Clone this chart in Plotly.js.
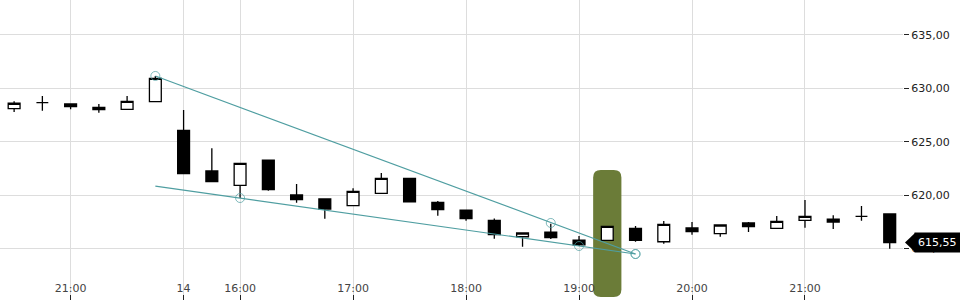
<!DOCTYPE html>
<html>
<head>
<meta charset="utf-8">
<script src="https://cdn.plot.ly/plotly-3.0.1.min.js"></script>
<style>html,body{margin:0;padding:0;background:#fff;}#chart{width:960px;height:300px;}</style>
</head>
<body>
<div id="chart"></div>
<script>
// 15-minute candles: day 13 (evening) then day 14
const times = ['13 20:30','13 20:45','13 21:00','13 21:15','13 21:30','13 21:45',
  '14 15:30','14 15:45','14 16:00','14 16:15','14 16:30','14 16:45','14 17:00','14 17:15',
  '14 17:30','14 17:45','14 18:00','14 18:15','14 18:30','14 18:45','14 19:00','14 19:15',
  '14 19:30','14 19:45','14 20:00','14 20:15','14 20:30','14 20:45','14 21:00','14 21:15',
  '14 21:30','14 21:45'];
const open  = [628.09,628.66,628.53,628.22,628.03,628.75,626.06,622.25,620.91,623.28,620.00,619.63,619.00,620.16,621.56,619.31,618.59,617.63,616.09,616.53,615.78,615.75,616.88,615.62,616.91,616.38,617.38,616.88,617.63,617.75,618.00,618.22];
const high  = [628.78,629.28,628.53,628.53,629.28,631.16,627.97,624.38,622.97,623.28,621.03,619.63,620.63,622.06,621.56,619.44,618.59,617.81,616.44,617.30,616.16,617.06,617.09,617.56,617.47,617.19,617.47,618.03,619.53,618.10,618.97,618.22];
const low   = [627.78,627.90,628.03,627.72,628.03,628.75,622.00,621.25,619.72,620.40,619.28,617.78,619.00,620.16,619.37,618.06,617.59,615.90,615.16,615.88,615.22,615.75,615.62,615.44,616.28,616.09,616.53,616.88,616.94,616.81,617.59,614.97];
const close = [628.60,628.66,628.28,628.00,628.78,630.94,622.00,621.25,622.97,620.50,619.56,618.69,620.34,621.56,619.37,618.63,617.78,616.28,616.44,616.00,615.34,617.06,615.75,617.25,616.56,617.19,617.03,617.53,618.00,617.47,618.00,615.55];

// x-axis tick labels
const tickTimes  = ['13 21:00','14 15:30','14 16:00','14 17:00','14 18:00','14 19:00','14 20:00','14 21:00'];
const tickLabels = ['21:00','14','16:00','17:00','18:00','19:00','20:00','21:00'];

// drawn trend lines (wedge)
const upperTimes  = ['13 21:45','14 18:45','14 19:30'];
const upperValues = [631.16,617.38,614.47];
const upperMarks  = [9,9,9];
const lowerTimes  = ['13 21:45','14 16:00','14 19:00','14 19:30'];
const lowerValues = [620.84,619.72,615.22,614.47];
const lowerMarks  = [0,9,9,9];

// highlighted candle
const highlightTime = '14 19:15';
const highlightTop = 622.34, highlightBottom = 610.44;

const idx = t => times.indexOf(t);
const xs = times.map((t, i) => i);
const teal = '#4f9ea1';
const lastClose = close[close.length - 1];
const fmt = v => v.toFixed(2).replace('.', ',');

const traces = [
  {
    type: 'candlestick', x: xs, open: open, high: high, low: low, close: close,
    increasing: {line: {color: '#000', width: 1.3}, fillcolor: '#fff'},
    decreasing: {line: {color: '#000', width: 1.3}, fillcolor: '#000'},
    whiskerwidth: 0, hoverinfo: 'none', showlegend: false
  },
  {
    type: 'scatter', mode: 'lines+markers', x: upperTimes.map(idx), y: upperValues,
    line: {color: teal, width: 1.2},
    marker: {symbol: 'circle-open', size: upperMarks, color: teal, line: {color: teal, width: 1}},
    hoverinfo: 'none', showlegend: false
  },
  {
    type: 'scatter', mode: 'lines+markers', x: lowerTimes.map(idx), y: lowerValues,
    line: {color: teal, width: 1.2},
    marker: {symbol: 'circle-open', size: lowerMarks, color: teal, line: {color: teal, width: 1}},
    hoverinfo: 'none', showlegend: false
  }
];

const hi = idx(highlightTime);
const hx0 = hi - 0.5, hx1 = hi + 0.5, rx = 0.27, ry = 0.7;
const hlPath = `M ${hx0 + rx},${highlightTop} L ${hx1 - rx},${highlightTop} Q ${hx1},${highlightTop} ${hx1},${highlightTop - ry} ` +
  `L ${hx1},${highlightBottom + ry} Q ${hx1},${highlightBottom} ${hx1 - rx},${highlightBottom} ` +
  `L ${hx0 + rx},${highlightBottom} Q ${hx0},${highlightBottom} ${hx0},${highlightBottom + ry} ` +
  `L ${hx0},${highlightTop - ry} Q ${hx0},${highlightTop} ${hx0 + rx},${highlightTop} Z`;

const layout = {
  width: 960, height: 300,
  margin: {l: 0, r: 57, t: 0, b: 0, pad: 0},
  paper_bgcolor: '#fff', plot_bgcolor: '#fff',
  separators: ',.',
  font: {family: 'DejaVu Sans', size: 11, color: '#222'},
  showlegend: false,
  boxgap: 0.58, boxgroupgap: 0,
  xaxis: {
    type: 'linear', range: [-0.5, 31.47], rangeslider: {visible: false},
    tickvals: tickTimes.map(idx), ticktext: tickLabels,
    ticks: 'inside', ticklen: 5, tickcolor: '#222', ticklabelposition: 'inside',
    showgrid: true, gridcolor: '#dddddd', gridwidth: 1, zeroline: false, showline: false,
    fixedrange: true
  },
  yaxis: {
    side: 'right', range: [610.16, 638.28], dtick: 5, tick0: 0, tickformat: '.2f',
    ticks: 'outside', ticklen: 5, tickcolor: '#222',
    showgrid: true, gridcolor: '#dddddd', gridwidth: 1, zeroline: false, showline: false,
    fixedrange: true
  },
  shapes: [
    {type: 'path', xref: 'x', yref: 'y', path: hlPath, fillcolor: '#6b7c38', line: {width: 0}, layer: 'between'},
    {type: 'path', xref: 'paper', yref: 'y', xsizemode: 'pixel', ysizemode: 'pixel',
     xanchor: 1, yanchor: lastClose, path: 'M 2,0 L 12,9.5 L 12,-9.5 Z', fillcolor: '#000', line: {width: 0}, layer: 'above'}
  ],
  annotations: [
    {xref: 'paper', yref: 'y', x: 1, y: lastClose, xanchor: 'left', yanchor: 'middle', xshift: 11,
     text: fmt(lastClose), showarrow: false, bgcolor: '#000', borderpad: 3,
     font: {family: 'DejaVu Sans', size: 11, color: '#fff'}}
  ]
};

Plotly.newPlot('chart', traces, layout, {staticPlot: true, displayModeBar: false});
</script>
</body>
</html>
